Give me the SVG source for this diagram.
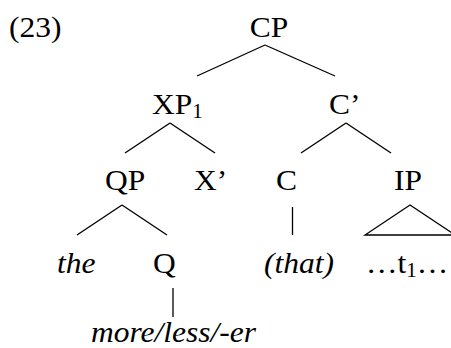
<svg xmlns="http://www.w3.org/2000/svg" width="451" height="348" viewBox="0 0 451 348">
<style>
text{font-size:30px;fill:#000}
.i{font-style:italic}
.sub{font-size:20px}
line,polygon{stroke:#000;stroke-width:1.3;fill:none}
</style>
<rect width="451" height="348" fill="#fff"/>
<g id="edges">
<line x1="265" y1="45" x2="197" y2="76"/>
<line x1="265" y1="45" x2="335" y2="76"/>
<line x1="170" y1="123" x2="125" y2="153"/>
<line x1="170" y1="123" x2="215" y2="153"/>
<line x1="346" y1="123" x2="301" y2="153"/>
<line x1="346" y1="123" x2="391" y2="153"/>
<line x1="122" y1="205" x2="77" y2="235"/>
<line x1="122" y1="205" x2="167" y2="235"/>
<line x1="292.5" y1="207" x2="292.5" y2="235"/>
<line x1="173" y1="288" x2="173" y2="317"/>
<polygon points="410,205 365,235 455,235"/>
</g>
<g font-family="'Liberation Serif', 'Times New Roman', 'DejaVu Serif', serif" transform="scale(1.05,1)">
<g id="label"><text x="8.6" y="37">(23)</text></g>
<g id="CP"><text x="256.2" y="37" text-anchor="middle">CP</text></g>
<g id="XP1"><text x="144.8" y="114">XP<tspan class="sub" dy="4">1</tspan></text></g>
<g id="Cbar"><text x="313.3" y="114">C’</text></g>
<g id="QP"><text x="100" y="190">QP</text></g>
<g id="Xbar"><text x="184.8" y="190">X’</text></g>
<g id="C"><text x="262.9" y="190">C</text></g>
<g id="IP"><text x="375.2" y="190">IP</text></g>
<g id="the"><text class="i" x="54.3" y="273">the</text></g>
<g id="Q"><text x="145.7" y="273">Q</text></g>
<g id="that"><text class="i" x="251.4" y="273">(that)</text></g>
<g id="trace"><text x="348.6" y="273">…t<tspan class="sub" dy="4">1</tspan><tspan dy="-4">…</tspan></text></g>
<g id="more"><text class="i" x="86.7" y="342">more/less/-er</text></g>
</g>
</svg>
